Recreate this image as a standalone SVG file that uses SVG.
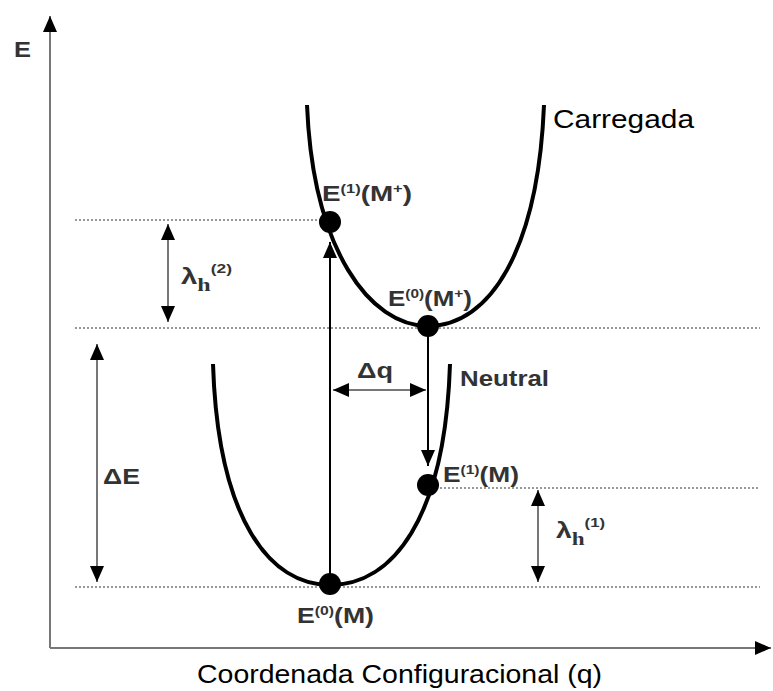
<svg xmlns="http://www.w3.org/2000/svg" width="773" height="691" viewBox="0 0 773 691">
<style>
.lbl{font-family:"Liberation Sans",Arial,sans-serif;font-weight:bold;fill:#333;font-size:22px}
.sup{font-size:13px}
.dot{stroke:#777;stroke-width:1.3;stroke-dasharray:2,2;fill:none}
.curve{stroke:#000;stroke-width:4;fill:none}
.gray{stroke:#777;stroke-width:2;fill:none}
.plain{font-family:"Liberation Sans",Arial,sans-serif;fill:#000}
</style>
<defs>
<marker id="big" viewBox="0 0 16 14" refX="16" refY="7" markerWidth="16" markerHeight="14" markerUnits="userSpaceOnUse" orient="auto-start-reverse"><path d="M0,0 L16,7 L0,14 z" fill="#000"/></marker>
</defs>
<rect width="773" height="691" fill="#fff"/>
<g id="axes">
<line x1="50" y1="648" x2="50" y2="16" class="gray" marker-end="url(#big)"/>
<line x1="50" y1="648" x2="771" y2="648" class="gray" marker-end="url(#big)"/>
<text x="14" y="57" class="lbl" textLength="17" lengthAdjust="spacingAndGlyphs">E</text>
<text x="197" y="683" class="plain" font-size="25" textLength="405" lengthAdjust="spacingAndGlyphs">Coordenada Configuracional (q)</text>
</g>
<g id="levels">
<line x1="75" y1="220" x2="322" y2="220" class="dot"/>
<line x1="75" y1="328" x2="760" y2="328" class="dot"/>
<line x1="432" y1="488" x2="760" y2="488" class="dot"/>
<line x1="75" y1="587" x2="760" y2="587" class="dot"/>
</g>
<g id="carregada">
<path class="curve" d="M307,105 C313,250 370,326 428,326 C490,326 538,250 544,105"/>
<text x="553" y="128" class="plain" font-size="25" textLength="141" lengthAdjust="spacingAndGlyphs">Carregada</text>
</g>
<g id="neutral">
<path class="curve" d="M213,364 C218,520 270,585 330,585 C392,585 445,520 450,364"/>
<text x="460" y="386" class="lbl" textLength="89" lengthAdjust="spacingAndGlyphs">Neutral</text>
</g>
<g id="connectors">
<line x1="330" y1="585" x2="330" y2="242" stroke="#000" stroke-width="2" marker-end="url(#big)"/>
<line x1="428" y1="330" x2="428" y2="466" stroke="#000" stroke-width="2" marker-end="url(#big)"/>
<line x1="333" y1="390" x2="426" y2="390" class="gray" marker-start="url(#big)" marker-end="url(#big)"/>
<line x1="168" y1="224" x2="168" y2="322" class="gray" marker-start="url(#big)" marker-end="url(#big)"/>
<line x1="97" y1="344" x2="97" y2="582" class="gray" marker-start="url(#big)" marker-end="url(#big)"/>
<line x1="538" y1="490" x2="538" y2="582" class="gray" marker-start="url(#big)" marker-end="url(#big)"/>
</g>
<g id="p-E1Mplus">
<circle cx="330" cy="222" r="11" fill="#000"/>
<text x="322" y="201" class="lbl" textLength="90" lengthAdjust="spacingAndGlyphs">E<tspan class="sup" dy="-8">(1)</tspan><tspan dy="8">(M</tspan><tspan class="sup" dy="-8">+</tspan><tspan dy="8">)</tspan></text>
</g>
<g id="p-E0Mplus">
<circle cx="428" cy="326" r="11" fill="#000"/>
<text x="388" y="306" class="lbl" textLength="84" lengthAdjust="spacingAndGlyphs">E<tspan class="sup" dy="-8">(0)</tspan><tspan dy="8">(M</tspan><tspan class="sup" dy="-8">+</tspan><tspan dy="8">)</tspan></text>
</g>
<g id="p-E1M">
<circle cx="428" cy="485" r="11" fill="#000"/>
<text x="443" y="482" class="lbl" textLength="76" lengthAdjust="spacingAndGlyphs">E<tspan class="sup" dy="-8">(1)</tspan><tspan dy="8">(M)</tspan></text>
</g>
<g id="p-E0M">
<circle cx="330" cy="584" r="11" fill="#000"/>
<text x="297" y="623" class="lbl" textLength="77" lengthAdjust="spacingAndGlyphs">E<tspan class="sup" dy="-8">(0)</tspan><tspan dy="8">(M)</tspan></text>
</g>
<g id="labels">
<text x="357" y="378" class="lbl" textLength="36" lengthAdjust="spacingAndGlyphs">Δq</text>
<text x="103" y="484" class="lbl" textLength="37" lengthAdjust="spacingAndGlyphs">ΔE</text>
<text x="181" y="284" class="lbl" font-size="24" textLength="51" lengthAdjust="spacingAndGlyphs">λ<tspan font-family="Liberation Serif,serif" font-size="18" dy="7">h</tspan><tspan class="sup" dy="-18">(2)</tspan></text>
<text x="556" y="538" class="lbl" font-size="24" textLength="49" lengthAdjust="spacingAndGlyphs">λ<tspan font-family="Liberation Serif,serif" font-size="18" dy="7">h</tspan><tspan class="sup" dy="-18">(1)</tspan></text>
</g>
</svg>
